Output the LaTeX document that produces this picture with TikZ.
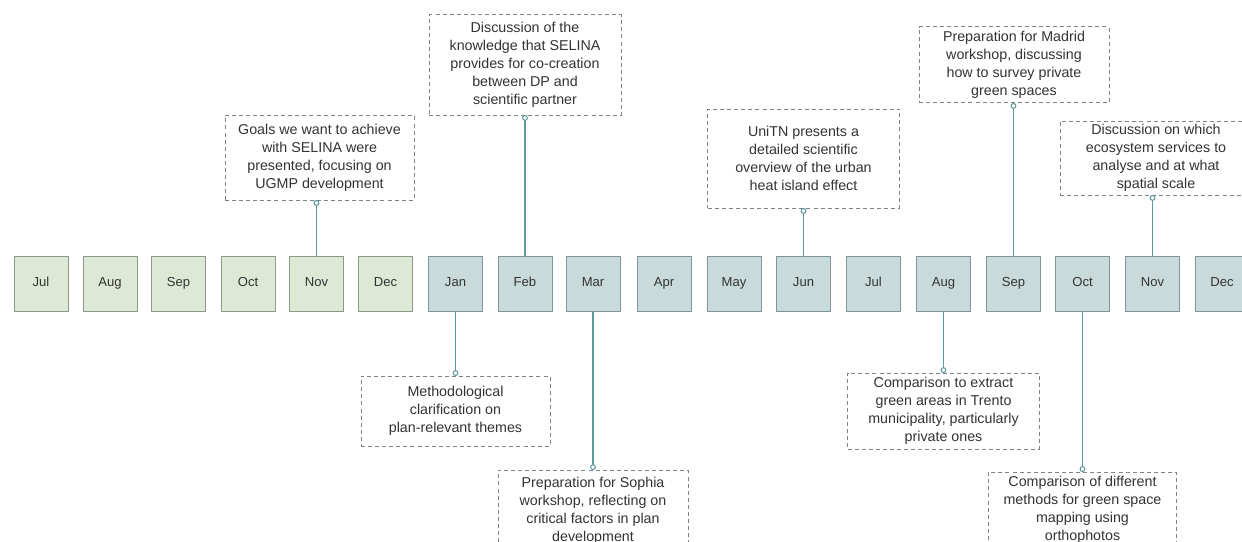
\documentclass[tikz,border=0pt]{standalone}
\usepackage{fontspec}
\setmainfont{Liberation Sans}
\definecolor{txt}{HTML}{333333}
\definecolor{oldfill}{HTML}{DDE9D5}
\definecolor{oldline}{HTML}{8C9A8A}
\definecolor{newfill}{HTML}{C9DADA}
\definecolor{newline}{HTML}{7E9696}
\definecolor{conn}{HTML}{5E9A9A}
\definecolor{noteline}{HTML}{7C8686}
\tikzset{
  month/.style={draw, line width=0.75pt, minimum width=40.5pt, minimum height=41.25pt,
    inner sep=0pt, text=txt, font=\fontsize{9.8}{12}\selectfont,
    text height=7pt, text depth=2pt},
  yearA/.style={month, fill=oldfill, draw=oldline},
  yearB/.style={month, fill=newfill, draw=newline},
  note/.style={draw=noteline, line width=0.75pt, dash pattern=on 3pt off 2.3pt,
    align=center, inner sep=0pt, text=txt, fill=white,
    font=\fontsize{10.7}{13.5}\selectfont},
  link/.style={draw=conn, line width=1.1pt},
  knob/.style={draw=conn, line width=0.8pt, fill=white}
}
\begin{document}
\begin{tikzpicture}[x=0.75pt,y=-0.75pt]
\useasboundingbox (0,0) rectangle (1242,542);
\clip (0,0) rectangle (1242,542);
\fill[white] (0,0) rectangle (1242,542);

% first year
\node[yearA] (jul1) at (41,283.5) {Jul};
\node[yearA] (aug1) at (110,283.5) {Aug};
\node[yearA] (sep1) at (178.5,283.5) {Sep};
\node[yearA] (oct1) at (248,283.5) {Oct};
\node[yearA] (nov1) at (316.5,283.5) {Nov};
\node[yearA] (dec1) at (385.5,283.5) {Dec};
% second year
\node[yearB] (jan2) at (455.5,283.5) {Jan};
\node[yearB] (feb2) at (525,283.5) {Feb};
\node[yearB] (mar2) at (593,283.5) {Mar};
\node[yearB] (apr2) at (664,283.5) {Apr};
\node[yearB] (may2) at (734,283.5) {May};
\node[yearB] (jun2) at (803.5,283.5) {Jun};
\node[yearB] (jul2) at (873.5,283.5) {Jul};
\node[yearB] (aug2) at (943.5,283.5) {Aug};
\node[yearB] (sep2) at (1013.5,283.5) {Sep};
\node[yearB] (oct2) at (1082.5,283.5) {Oct};
\node[yearB] (nov2) at (1152.5,283.5) {Nov};
\node[yearB] (dec2) at (1222,283.5) {Dec};

% notes above the line
\node[note, minimum width=141.75pt, minimum height=63.75pt] (goals) at (319.5,157.5)
  {Goals we want to achieve\\with SELINA were\\presented, focusing on\\UGMP development};
\node[note, minimum width=144pt, minimum height=75pt] (know) at (525,65)
  {Discussion of the\\knowledge that SELINA\\provides for co-creation\\between DP and\\scientific partner};
\node[note, minimum width=144pt, minimum height=74.25pt] (heat) at (803.5,158.5)
  {UniTN presents a\\detailed scientific\\overview of the urban\\heat island effect};
\node[note, minimum width=142.5pt, minimum height=57pt] (madrid) at (1014,65)
  {Preparation for Madrid\\workshop, discussing\\how to survey private\\green spaces};
\node[note, minimum width=144pt, minimum height=55.5pt] (eco) at (1156,158)
  {Discussion on which\\ecosystem services to\\analyse and at what\\spatial scale};

% notes below the line
\node[note, minimum width=141.75pt, minimum height=52.5pt] (method) at (455.5,411)
  {Methodological\\clarification on\\plan-relevant themes};
\node[note, minimum width=142.5pt, minimum height=61.5pt] (sophia) at (593,511)
  {Preparation for Sophia\\workshop, reflecting on\\critical factors in plan\\development};
\node[note, minimum width=144pt, minimum height=57pt] (trento) at (943.5,411)
  {Comparison to extract\\green areas in Trento\\municipality, particularly\\private ones};
\node[note, minimum width=141pt, minimum height=57pt] (ortho) at (1082.5,510)
  {Comparison of different\\methods for green space\\mapping using\\orthophotos};

% connectors with open round ends at the notes
\foreach \m/\n in {nov1/goals, feb2/know, jun2/heat, sep2/madrid, nov2/eco}{
  \draw[link] (\m.north) -- ([yshift=-3.6pt]\m.north |- \n.south);
  \draw[knob] ([yshift=-1.8pt]\m.north |- \n.south) circle (1.8pt);
}
\foreach \m/\n in {jan2/method, mar2/sophia, aug2/trento, oct2/ortho}{
  \draw[link] (\m.south) -- ([yshift=3.6pt]\m.south |- \n.north);
  \draw[knob] ([yshift=1.8pt]\m.south |- \n.north) circle (1.8pt);
}
\end{tikzpicture}
\end{document}
